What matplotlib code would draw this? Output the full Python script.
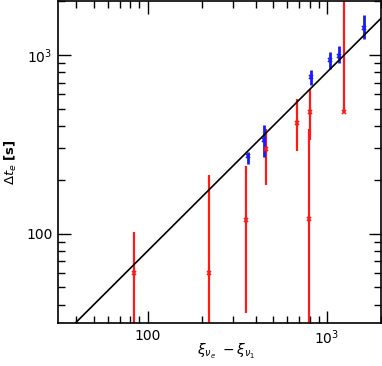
import numpy as np
import matplotlib
matplotlib.use("Agg")
import matplotlib.pyplot as plt
from matplotlib.ticker import FixedLocator, LogLocator, NullFormatter, FuncFormatter

# red points (lower error clipped below the axis where it runs off)
red_x = [84, 219, 353, 454, 677, 806, 793, 1249]
red_y = [60, 60, 119, 298, 417, 478, 120, 478]
red_lo = [20, 20, 36, 186, 288, 332, 20, 478]
red_hi = [102, 214, 238, 386, 568, 646, 386, 3000]

# blue points
blue_x = [361, 446, 814, 1039, 1166, 1603]
blue_y = [271, 332, 750, 938, 991, 1415]
blue_lo = [246, 268, 674, 828, 898, 1228]
blue_hi = [286, 403, 825, 1034, 1127, 1679]

# fitted line y = k * x
slope_k = 0.8
line_x = [20, 3000]

plt.rcParams["font.family"] = ["DejaVu Sans"]

fig = plt.figure(figsize=(3.82, 3.66), dpi=100)
ax = fig.add_axes([58 / 382, 1 - 323 / 366, 323 / 382, 322 / 366])

ax.plot(line_x, [slope_k * v for v in line_x], color="black", lw=1.2, zorder=3)

ry = np.array(red_y)
ax.errorbar(red_x, red_y,
            yerr=[ry - np.array(red_lo), np.array(red_hi) - ry],
            fmt="x", color="#ff1a1a", ms=3, mew=1.2, elinewidth=1.6,
            capsize=0, zorder=2)

by = np.array(blue_y)
ax.errorbar(blue_x, blue_y,
            yerr=[by - np.array(blue_lo), np.array(blue_hi) - by],
            fmt="x", color="#1a1aff", ms=3, mew=1.2, elinewidth=2.0,
            capsize=0, zorder=2)

ax.set_xscale("log")
ax.set_yscale("log")
ax.set_xlim(10 ** 1.5, 2000)
ax.set_ylim(10 ** 1.5, 2000)


def fmt(v, pos):
    if abs(v - 100) < 1:
        return "100"
    if abs(v - 1000) < 1:
        return r"$10^3$"
    return ""


for axis in (ax.xaxis, ax.yaxis):
    axis.set_major_locator(FixedLocator([100, 1000]))
    axis.set_major_formatter(FuncFormatter(fmt))
    axis.set_minor_locator(LogLocator(base=10, subs=np.arange(2, 10)))
    axis.set_minor_formatter(NullFormatter())

ax.tick_params(which="both", direction="in", top=True, right=True, width=1.0)
ax.tick_params(which="major", length=9, labelsize=10, pad=4)
ax.tick_params(which="minor", length=5)
for s in ax.spines.values():
    s.set_linewidth(1.2)

ax.set_xlabel(r"$\xi_{\nu_e}\ -\xi_{\nu_1}$", fontsize=10, fontweight="bold")
ax.xaxis.set_label_coords(0.52, -0.06)
ax.set_ylabel(r"$\Delta t_e$ [s]", fontsize=9.5, fontweight="bold")
ax.yaxis.set_label_coords(-0.12, 0.5)

fig.savefig("out.png", dpi=100)
